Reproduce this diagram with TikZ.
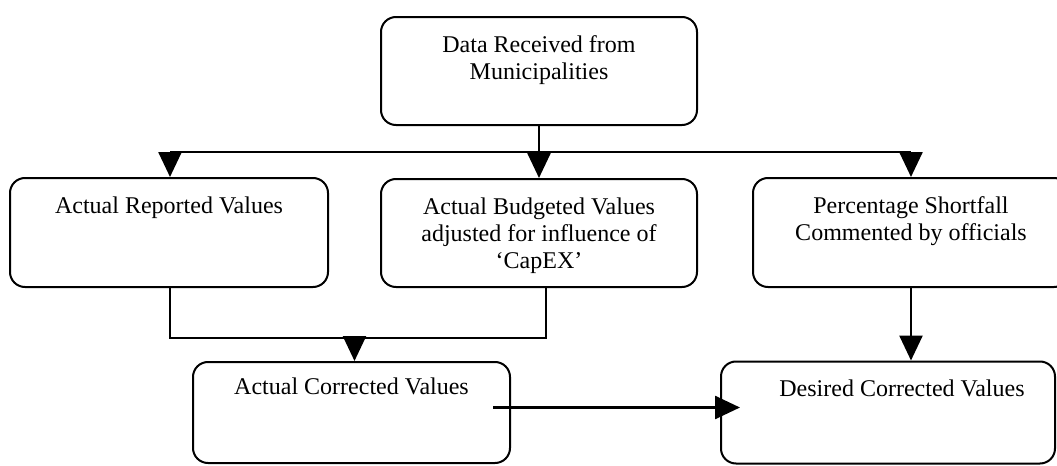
\documentclass[tikz,border=0pt]{standalone}
\usepackage{fontspec}
\setmainfont{Liberation Serif}
\usetikzlibrary{arrows.meta,calc}
\begin{document}
\begin{tikzpicture}[x=0.5pt,y=-0.5pt,
  box/.style={draw=black,line width=1pt,rounded corners=7.5pt,inner sep=0pt},
  txt/.style={anchor=north,inner sep=0pt,align=center,font=\fontsize{12}{13.6}\selectfont},
  link/.style={draw=black,line width=1.3pt},
  arr/.style={link,-{Triangle[width=11.5pt,length=12.5pt]}}]
  % page frame
  \clip (0,0) rectangle (1057,466);

  % boxes
  \node[box,minimum width=158pt,minimum height=54pt]   (top)   at (539,71)    {};
  \node[box,minimum width=159pt,minimum height=54.5pt] (left)  at (169,232.5) {};
  \node[box,minimum width=158pt,minimum height=54pt]   (mid)   at (539,233)   {};
  \node[box,minimum width=158pt,minimum height=54.5pt] (right) at (911,232.5) {};
  \node[box,minimum width=158.5pt,minimum height=50.5pt] (corr) at (351.5,412.5) {};
  \node[box,minimum width=167pt,minimum height=51pt]   (des)   at (888,412.5) {};

  % labels
  \node[txt] (ttop)   at ($(top.north)+(0,19)$)   {Data Received from\\Municipalities};
  \node[txt] (tleft)  at ($(left.north)+(0,19)$)  {Actual Reported Values};
  \node[txt] (tmid)   at ($(mid.north)+(0,19)$)   {Actual Budgeted Values\\adjusted for influence of\\`CapEX'};
  \node[txt] (tright) at ($(right.north)+(0,19)$) {Percentage Shortfall\\Commented by officials};
  \node[txt] (tcorr)  at ($(corr.north)+(0,16)$)  {Actual Corrected Values};
  \node[txt] (tdes)   at ($(des.north)+(14,19)$)  {Desired Corrected Values};

  % distribution bus from the top box
  \coordinate (bus) at (0,152);
  \draw[link] (top.south) -- (top.south |- bus);
  \draw[link] ($(left.north |- bus)+(1,0)$) -- (right.north |- bus);
  \draw[arr] ($(left.north |- bus)+(1,0)$) -- ($(left.north)+(1,0)$);
  \draw[arr] (top.south |- bus) -- (mid.north);
  \draw[arr] (right.north |- bus) -- (right.north);

  % merge of reported and budgeted values
  \coordinate (merge) at (0,338);
  \draw[link] ($(left.south)+(1,0)$) -- ($(left.south |- merge)+(1,0)$)
              -- ($(mid.south |- merge)+(7,0)$) -- ($(mid.south)+(7,0)$);
  \draw[arr] ($(corr.north |- merge)+(3,0)$) -- ($(corr.north)+(3,0)$);

  % shortfall into desired values
  \draw[arr] (right.south) -- (right.south |- des.north);

  % corrected to desired
  \draw[arr] ($(corr.east)+(-18,-5)$) -- ($(des.west)+(20,-5)$);
\end{tikzpicture}
\end{document}
